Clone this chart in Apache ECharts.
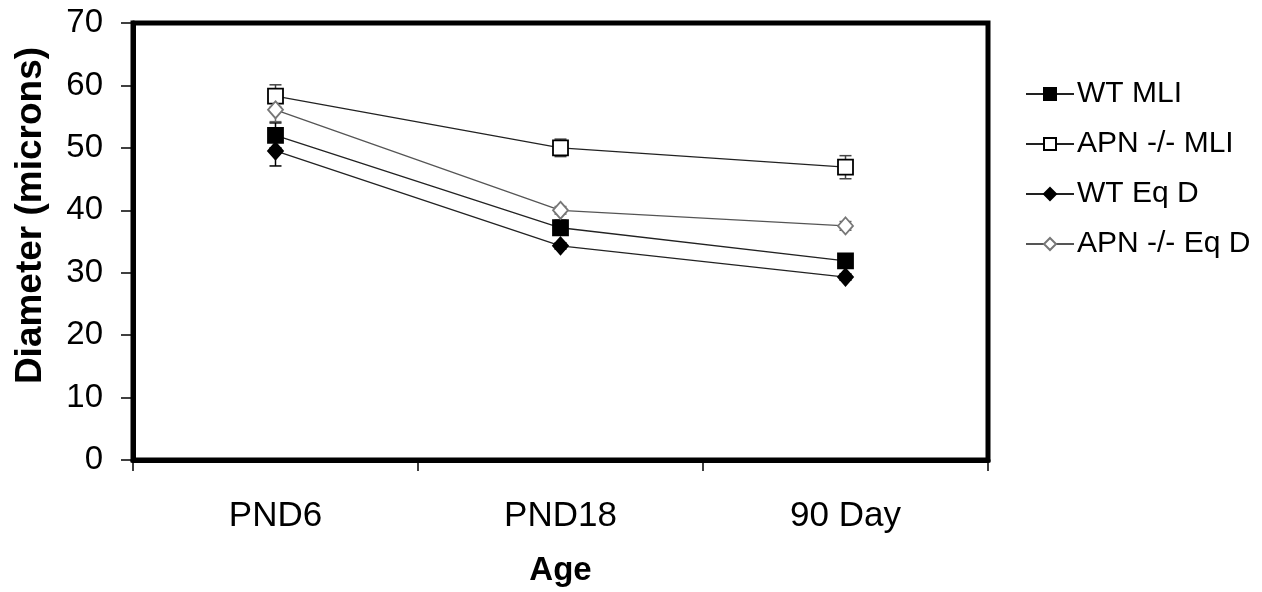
<!DOCTYPE html>
<html>
<head>
<meta charset="utf-8">
<script src="https://cdn.jsdelivr.net/npm/echarts@6/dist/echarts.min.js"></script>
<style>html,body{margin:0;padding:0;background:#fff}#c{width:1262px;height:592px}</style>
</head>
<body>
<div id="c"></div>
<script>
var categories = ['PND6', 'PND18', '90 Day'];
var seriesNames = ['WT MLI', 'APN -/- MLI', 'WT Eq D', 'APN -/- Eq D'];
var wtMli = [52.0, 37.2, 31.9];
var wtMliErr = [2.0, 1.2, 0.8];
var apnMli = [58.3, 50.0, 46.9];
var apnMliErr = [1.8, 1.4, 1.85];
var wtEqD = [49.5, 34.3, 29.3];
var wtEqDErr = [2.4, 0.5, 0.5];
var apnEqD = [56.1, 40.0, 37.5];
var apnEqDErr = [1.9, 0.6, 0.7];
var yTicks = [0, 10, 20, 30, 40, 50, 60, 70];

var FONT = '"Liberation Sans", Arial, sans-serif';

function errSeries(vals, errs, color) {
  var data = vals.map(function (v, i) { return [i, v - errs[i], v + errs[i]]; });
  return {
    type: 'custom',
    silent: true,
    z: 1,
    data: data,
    renderItem: function (params, api) {
      var lo = api.coord([api.value(0), api.value(1)]);
      var hi = api.coord([api.value(0), api.value(2)]);
      var w = 6;
      var st = { stroke: color, lineWidth: 1.5 };
      return {
        type: 'group',
        children: [
          { type: 'line', shape: { x1: lo[0], y1: lo[1], x2: hi[0], y2: hi[1] }, style: st },
          { type: 'line', shape: { x1: lo[0] - w, y1: lo[1], x2: lo[0] + w, y2: lo[1] }, style: st },
          { type: 'line', shape: { x1: hi[0] - w, y1: hi[1], x2: hi[0] + w, y2: hi[1] }, style: st }
        ]
      };
    }
  };
}

function lineSeries(name, vals, symbol, size, fill, stroke, lineColor) {
  return {
    name: name,
    type: 'line',
    data: vals,
    symbol: symbol,
    symbolSize: size,
    showAllSymbol: true,
    z: 3,
    lineStyle: { color: lineColor, width: 1.3 },
    itemStyle: { color: fill, borderColor: stroke, borderWidth: 1.8 },
    emphasis: { disabled: true }
  };
}

var chart = echarts.init(document.getElementById('c'), null, { renderer: 'canvas' });
chart.setOption({
  animation: false,
  backgroundColor: '#fff',
  grid: {
    left: 133, right: 274, top: 23, bottom: 131,
    show: true, borderColor: '#000', borderWidth: 5, backgroundColor: 'transparent'
  },
  legend: {
    orient: 'vertical',
    left: 1020, top: 73,
    itemWidth: 48, itemHeight: 15,
    itemGap: 18,
    textStyle: { fontFamily: FONT, fontSize: 30, color: '#000', lineHeight: 32, padding: [0, 0, 0, -2] },
    data: seriesNames
  },
  xAxis: {
    type: 'category',
    data: categories,
    boundaryGap: true,
    name: 'Age',
    nameLocation: 'middle',
    nameGap: 94,
    nameTextStyle: { fontFamily: FONT, fontSize: 33, fontWeight: 'bold', color: '#000' },
    axisLine: { show: true, lineStyle: { color: '#000', width: 5 } },
    axisTick: { show: true, length: 11, lineStyle: { color: '#000', width: 1.5 } },
    axisLabel: { fontFamily: FONT, fontSize: 35, color: '#000', margin: 39 },
    splitLine: { show: false }
  },
  yAxis: {
    type: 'value',
    min: 0, max: 70, interval: 10,
    name: 'Diameter (microns)',
    nameLocation: 'middle',
    nameGap: 84,
    nameTextStyle: { fontFamily: FONT, fontSize: 37, fontWeight: 'bold', color: '#000', padding: [0, 0, 0, 52] },
    axisLine: { show: true, lineStyle: { color: '#000', width: 5 } },
    axisTick: { show: true, length: 12, lineStyle: { color: '#000', width: 1.5 } },
    axisLabel: {
      fontFamily: FONT, fontSize: 33, color: '#000', margin: 30,
      formatter: function (v) { return yTicks.indexOf(v) >= 0 ? String(v) : ''; }
    },
    splitLine: { show: false }
  },
  series: [
    errSeries(wtMli, wtMliErr, '#000'),
    errSeries(apnMli, apnMliErr, '#444'),
    errSeries(wtEqD, wtEqDErr, '#000'),
    errSeries(apnEqD, apnEqDErr, '#666'),
    lineSeries('WT MLI', wtMli, 'rect', 15, '#000', '#000', '#222'),
    lineSeries('APN -/- MLI', apnMli, 'rect', 15, '#fff', '#000', '#222'),
    lineSeries('WT Eq D', wtEqD, 'diamond', [15, 17], '#000', '#000', '#222'),
    lineSeries('APN -/- Eq D', apnEqD, 'diamond', [15, 17], '#fff', '#777', '#555')
  ]
});
</script>
</body>
</html>
